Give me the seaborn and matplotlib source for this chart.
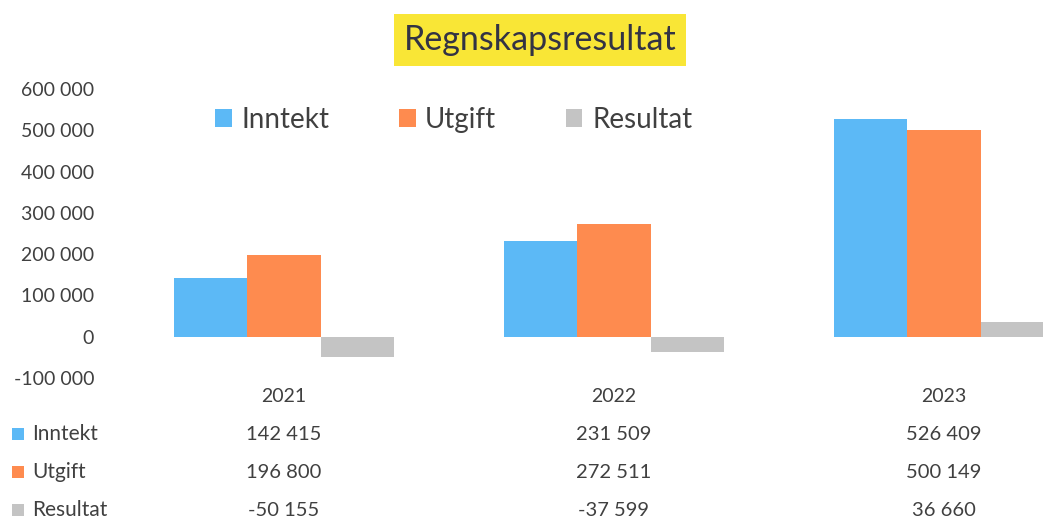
import pandas as pd
import seaborn as sns
from matplotlib import pyplot as plt
from matplotlib.patches import Rectangle
from matplotlib.ticker import FuncFormatter
import matplotlib.transforms as mtransforms

years = ["2021", "2022", "2023"]
series_names = ["Inntekt", "Utgift", "Resultat"]
inntekt = [142415, 231509, 526409]
utgift = [196800, 272511, 500149]
resultat = [-50155, -37599, 36660]

colors = ["#5cb9f6", "#fe8b4f", "#c4c4c4"]
text_color = "#404040"


def fmt(v):
    s = f"{abs(int(v)):,}".replace(",", " ")
    return "-" + s if v < 0 else s


def main():
    sns.set_theme(style="white")
    plt.rcParams["font.family"] = ["Lato", "DejaVu Sans"]

    df = pd.DataFrame({
        "Year": years * 3,
        "Series": [n for n in series_names for _ in years],
        "Value": inntekt + utgift + resultat,
    })

    fig = plt.figure(figsize=(10.43, 5.19), dpi=100)
    ax = fig.add_axes([119 / 1043, 1 - 378 / 519, 1 - 119 / 1043, (378 - 89) / 519])
    sns.barplot(df, x="Year", y="Value", hue="Series", hue_order=series_names,
                palette=colors, width=0.667, ax=ax, saturation=1, edgecolor="none")

    ax.set_xlim(-0.5, 2.3)
    ax.set_ylim(-100000, 600000)
    ax.set_yticks(range(-100000, 600001, 100000))
    ax.yaxis.set_major_formatter(FuncFormatter(lambda v, p: fmt(v)))
    ax.tick_params(axis="y", labelsize=14, labelcolor=text_color, pad=18, length=0)
    ax.set_xticks([])
    ax.set_xlabel("")
    ax.set_ylabel("")
    for s in ax.spines.values():
        s.set_visible(False)

    leg = ax.legend(loc="center left", bbox_to_anchor=(215 / 1043, 1 - 120 / 519),
                    bbox_transform=fig.transFigure, borderaxespad=0, borderpad=0,
                    ncols=3, frameon=False, fontsize=20, handlelength=0.6, handleheight=0.6,
                    handletextpad=0.35, columnspacing=2.5)
    for t in leg.get_texts():
        t.set_color(text_color)

    fig.text(540 / 1043, 1 - 40 / 519, "Regnskapsresultat", ha="center", va="center",
             fontsize=24.5, color="#333344",
             bbox=dict(facecolor="#f9e636", edgecolor="none", pad=7))

    # data table below the chart
    trans = mtransforms.blended_transform_factory(ax.transData, fig.transFigure)
    row_y = [1 - 434 / 519, 1 - 472 / 519, 1 - 510 / 519]
    for i, y in enumerate(years):
        fig.text(i, 1 - 397 / 519, y, transform=trans, ha="center", va="center",
                 fontsize=14, color=text_color)
    for ry, name, vals, c in zip(row_y, series_names, [inntekt, utgift, resultat], colors):
        fig.patches.append(Rectangle((12 / 1043, ry - 6 / 519), 12 / 1043, 12 / 519,
                                     transform=fig.transFigure, facecolor=c, edgecolor="none"))
        fig.text(32 / 1043, ry, name, ha="left", va="center", fontsize=15, color=text_color)
        for i, v in enumerate(vals):
            fig.text(i, ry, fmt(v), transform=trans, ha="center", va="center",
                     fontsize=14.5, color=text_color)

    fig.savefig("out.png", dpi=100)
    plt.close(fig)


if __name__ == '__main__':
    main()
